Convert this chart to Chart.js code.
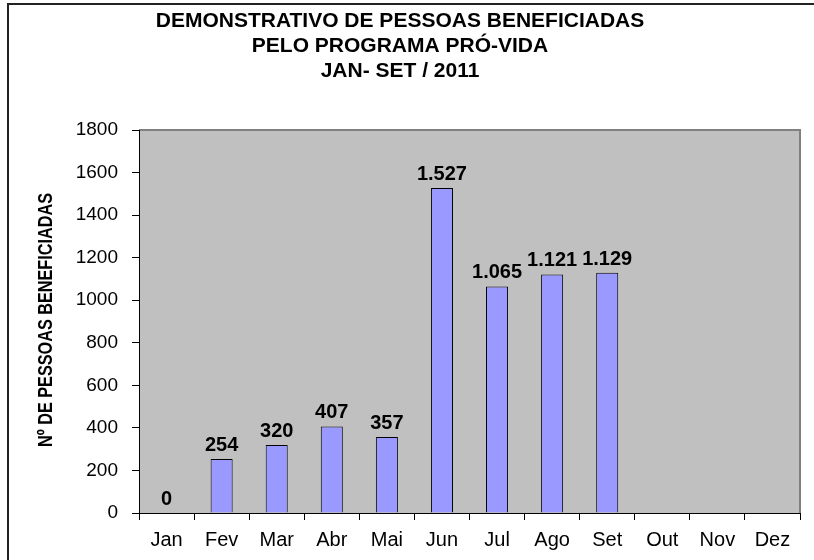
<!DOCTYPE html>
<html>
<head>
<meta charset="utf-8">
<script src="https://cdn.jsdelivr.net/npm/chart.js@4/dist/chart.umd.min.js"></script>
<style>
  html, body { margin: 0; padding: 0; background: #fff; }
  #wrap { width: 814px; height: 560px; }
</style>
</head>
<body>
<div id="wrap"><canvas id="chart"></canvas></div>
<script>
// dados
const months = ['Jan', 'Fev', 'Mar', 'Abr', 'Mai', 'Jun', 'Jul', 'Ago', 'Set', 'Out', 'Nov', 'Dez'];
const beneficiados = [0, 254, 320, 407, 357, 1527, 1065, 1121, 1129, null, null, null];
const yTickValues = [0, 200, 400, 600, 800, 1000, 1200, 1400, 1600, 1800];
const titleLines = ['DEMONSTRATIVO DE PESSOAS BENEFICIADAS', 'PELO PROGRAMA PRÓ-VIDA', 'JAN- SET / 2011'];
const yTitle = 'Nº DE PESSOAS BENEFICIADAS';

const FONT = 'Arial, "Liberation Sans", sans-serif';

function fmtBR(v) {
  return String(v).replace(/\B(?=(\d{3})+(?!\d))/g, '.');
}

// fundo, moldura e area cinza
const backdrop = {
  id: 'backdrop',
  beforeDraw(chart) {
    const { ctx, chartArea: a, width, height } = chart;
    ctx.save();
    ctx.fillStyle = '#fff';
    ctx.fillRect(0, 0, width, height);
    ctx.strokeStyle = '#222';
    ctx.lineWidth = 2;
    ctx.beginPath();
    ctx.moveTo(8, height);
    ctx.lineTo(8, 4);
    ctx.lineTo(width, 4);
    ctx.stroke();
    ctx.fillStyle = '#C0C0C0';
    ctx.fillRect(a.left, a.top, a.right - a.left, a.bottom - a.top);
    ctx.strokeStyle = '#808080';
    ctx.lineWidth = 2;
    ctx.beginPath();
    ctx.moveTo(a.left, a.top);
    ctx.lineTo(a.right, a.top);
    ctx.lineTo(a.right, a.bottom);
    ctx.stroke();
    ctx.restore();
  }
};

// rotulos de valor sobre as barras
const valueLabels = {
  id: 'valueLabels',
  afterDatasetsDraw(chart) {
    const { ctx } = chart;
    const meta = chart.getDatasetMeta(0);
    ctx.save();
    ctx.font = 'bold 20px ' + FONT;
    ctx.fillStyle = '#000';
    ctx.textAlign = 'center';
    ctx.textBaseline = 'alphabetic';
    meta.data.forEach((bar, i) => {
      const v = beneficiados[i];
      if (v === null) return;
      ctx.fillText(fmtBR(v), bar.x, bar.y - 8);
    });
    ctx.restore();
  }
};

// titulo do eixo Y, comprimido
const yAxisTitle = {
  id: 'yAxisTitle',
  afterDraw(chart) {
    const { ctx } = chart;
    ctx.save();
    ctx.translate(46, 320);
    ctx.rotate(-Math.PI / 2);
    ctx.font = 'bold 20px ' + FONT;
    ctx.fillStyle = '#000';
    ctx.textAlign = 'center';
    ctx.textBaseline = 'middle';
    ctx.fillText(yTitle, 0, 0, 254);
    ctx.restore();
  }
};

new Chart(document.getElementById('chart'), {
  type: 'bar',
  data: {
    labels: months,
    datasets: [{
      data: beneficiados,
      backgroundColor: '#9999FF',
      borderColor: '#000',
      borderWidth: 1,
      barPercentage: 0.4,
      categoryPercentage: 1
    }]
  },
  options: {
    responsive: true,
    maintainAspectRatio: false,
    animation: false,
    layout: { padding: { left: 0, right: 14, top: 0, bottom: 0 } },
    plugins: {
      legend: { display: false },
      tooltip: { enabled: false },
      title: {
        display: true,
        text: titleLines,
        color: '#000',
        font: { family: FONT, size: 21, weight: 'bold', lineHeight: '25px' },
        padding: { top: 9, bottom: 46 }
      }
    },
    scales: {
      x: {
        offset: true,
        grid: { offset: true, drawOnChartArea: false, tickLength: 7, color: '#000' },
        border: { color: '#000', width: 1 },
        ticks: { color: '#000', font: { family: FONT, size: 20 }, padding: 8, maxRotation: 0 },
        afterFit(scale) { scale.height = 47; }
      },
      y: {
        min: 0,
        max: 1800,
        afterBuildTicks(scale) { scale.ticks = yTickValues.map(v => ({ value: v })); },
        grid: { drawOnChartArea: false, tickLength: 7, color: '#000' },
        border: { color: '#000', width: 1 },
        ticks: { color: '#000', font: { family: FONT, size: 19 }, padding: 14, callback: v => String(v) },
        afterFit(scale) { scale.width = 139; }
      }
    }
  },
  plugins: [backdrop, valueLabels, yAxisTitle]
});
</script>
</body>
</html>
